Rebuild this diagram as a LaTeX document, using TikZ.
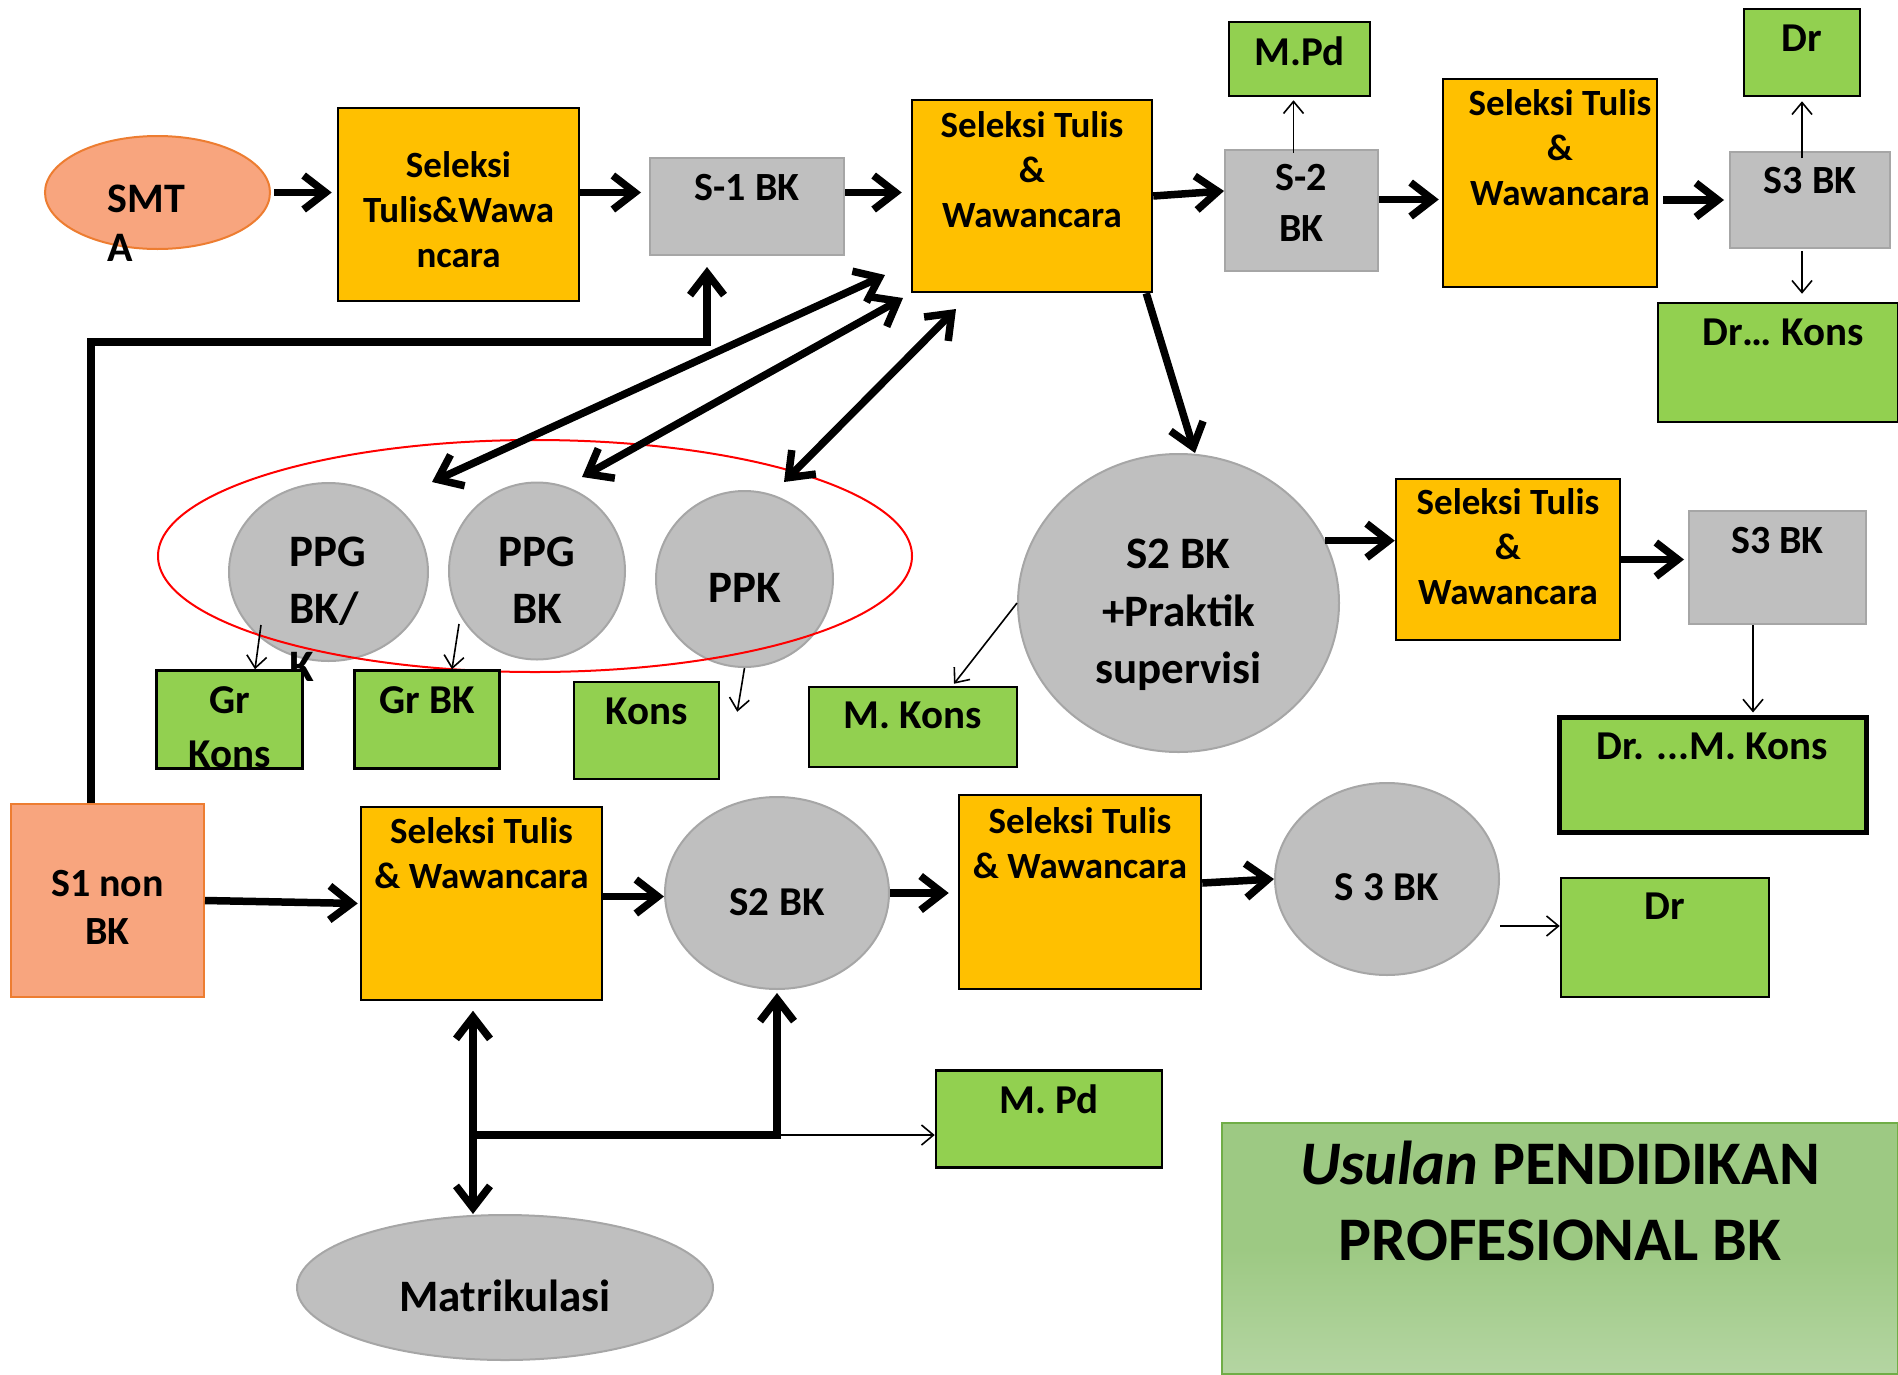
\documentclass[tikz,border=0pt]{standalone}
\usepackage{fontspec}
\setmainfont{Carlito}
\usetikzlibrary{arrows.meta, shapes.geometric, positioning}

\definecolor{orgF}{HTML}{FFC000}
\definecolor{gryF}{HTML}{BFBFBF}
\definecolor{gryD}{HTML}{A6A6A6}
\definecolor{grnF}{HTML}{92D050}
\definecolor{salF}{HTML}{F8A57E}
\definecolor{salD}{HTML}{ED7D31}
\definecolor{ttlA}{HTML}{9DC983}
\definecolor{ttlB}{HTML}{B4D5A2}
\definecolor{ttlD}{HTML}{70AD47}

\tikzset{
  fS/.style={font=\bfseries\fontsize{37}{45}\selectfont, align=center, inner sep=0pt},
  fL/.style={font=\bfseries\fontsize{40}{48}\selectfont, align=center, inner sep=0pt},
  fLL/.style={font=\bfseries\fontsize{40}{51}\selectfont, align=center, inner sep=0pt},
  fG/.style={font=\bfseries\fontsize{41}{50}\selectfont, align=center, inner sep=0pt},
  fGG/.style={font=\bfseries\fontsize{41}{54}\selectfont, align=center, inner sep=0pt},
  fM/.style={font=\bfseries\fontsize{42}{49}\selectfont, align=left, inner sep=0pt},
  fC/.style={font=\bfseries\fontsize{45}{57.5}\selectfont, align=center, inner sep=0pt},
  fT/.style={font=\bfseries\fontsize{62}{76}\selectfont, align=center, inner sep=0pt},
}

\begin{document}
\begin{tikzpicture}[x=1pt, y=-1pt,
    >={Straight Barb[length=22pt,width=34pt]},
    sz/.style 2 args={minimum width=#1pt, minimum height=#2pt, inner sep=0pt},
    obox/.style={rectangle, fill=orgF, draw=black, line width=2.5pt},
    gbox/.style={rectangle, fill=gryF, draw=gryD, line width=2pt},
    gell/.style={ellipse, fill=gryF, draw=gryD, line width=2pt},
    nbox/.style={rectangle, fill=grnF, draw=black, line width=2.5pt},
    sbox/.style={fill=salF, draw=salD, line width=2pt},
    thk/.style={line width=7.5pt},
    thn/.style={line width=1.6pt, -{Straight Barb[length=12pt,width=20pt]}},
  ]
  \useasboundingbox (0,0) rectangle (1898,1374);

  % title
  \node[rectangle, draw=ttlD, line width=2pt, sz={676}{251},
    top color=ttlA, bottom color=ttlB, middle color=ttlA,
    label={[fT, below=19pt]north:{\textit{Usulan} PENDIDIKAN\\PROFESIONAL BK}}] (ttl) at (1560,1248.5) {};

  % upper row
  \node[sbox, ellipse, sz={225}{113}, label={[fM, shift={(-11,31)}]center:{SMT\\A}}] (smta) at (157.5,192.5) {};
  \node[obox, sz={241}{193}, label={[fS, shift={(0,5)}]center:{Seleksi\\Tulis\&Wawa\\ncara}}] (sel1) at (458.5,204.5) {};
  \node[gbox, sz={194}{97}, label={[fL, below=17pt]north:{S-1 BK}}] (s1bk) at (747,206.5) {};
  \node[obox, sz={240}{192}, label={[fS, below=13pt]north:{Seleksi Tulis\\\&\\Wawancara}}] (sel2) at (1032,196) {};
  \node[nbox, sz={141}{74}, label={[fG, below=16pt]north:{M.Pd}}] (mpd1) at (1299.5,59) {};
  \node[gbox, sz={153}{121}, label={[fLL, below=15pt]north:{S-2\\BK}}] (s2bk) at (1301.5,210.5) {};
  \node[obox, sz={214}{208}, label={[fS, below=12pt, xshift=10pt]north:{Seleksi Tulis\\\&\\Wawancara}}] (sel3) at (1550,183) {};
  \node[gbox, sz={160}{96}, label={[fL, below=16pt]north:{S3 BK}}] (s3top) at (1810,200) {};
  \node[nbox, sz={116}{87}, label={[fG, below=17pt]north:{Dr}}] (drtop) at (1802,52.5) {};
  \node[nbox, sz={240}{119}, label={[fG, below=17pt, xshift=5pt]north:{Dr… Kons}}] (drkons) at (1778,362.5) {};

  % PPG group
  \node[gell, sz={199}{178}, label={[fC, align=left, shift={(-1,37)}]center:{PPG\\BK/\\K}}] (ppgk) at (328.5,572) {};
  \node[gell, sz={176}{177}, label={[fC, shift={(0,9)}]center:{PPG\\BK}}] (ppgbk) at (537,571) {};
  \node[gell, sz={177}{176}, label={[fC, shift={(0,9)}]center:{PPK}}] (ppk) at (744.5,579) {};
  \node[ellipse, draw=red, line width=2pt, sz={754}{232}] (grp) at (535,556) {};

  \node[nbox, sz={146}{98}, label={[fGG, below=17pt]north:{Gr\\Kons}}] (grkons) at (229.5,719.5) {};
  \node[nbox, sz={145}{98}, label={[fG, below=17pt]north:{Gr BK}}] (grbk) at (427,719.5) {};
  \node[nbox, sz={145}{97}, label={[fG, below=17pt]north:{Kons}}] (kons) at (646.5,730.5) {};
  \node[nbox, sz={208}{80}, label={[fG, below=16pt]north:{M. Kons}}] (mkons) at (913,727) {};

  % middle right
  \node[gell, sz={321}{298}, label={[fC, shift={(0,12)}]center:{S2 BK\\+Praktik\\supervisi}}] (s2prak) at (1178.5,603) {};
  \node[obox, sz={224}{161}, label={[fS, below=11pt]north:{Seleksi Tulis\\\&\\Wawancara}}] (sel4) at (1508,559.5) {};
  \node[gbox, sz={177}{113}, label={[fL, below=17pt]north:{S3 BK}}] (s3mid) at (1777.5,567.5) {};
  \node[nbox, line width=5pt, sz={307}{115}, label={[fG, below=18pt]north:{Dr. ...M. Kons}}] (drmkons) at (1712.5,774.5) {};

  % lower row
  \node[sbox, rectangle, sz={193}{193}, label={[fL, shift={(0,6.5)}]center:{S1 non\\BK}}] (s1non) at (107.5,900.5) {};
  \node[obox, sz={241}{193}, label={[fS, below=12pt]north:{Seleksi Tulis\\\& Wawancara}}] (sel5) at (481.5,903.5) {};
  \node[gell, sz={224}{192}, label={[fG, shift={(0,9.5)}]center:{S2 BK}}] (s2c) at (777,893) {};
  \node[obox, sz={242}{194}, label={[fS, below=14pt]north:{Seleksi Tulis\\\& Wawancara}}] (sel6) at (1080,892) {};
  \node[gell, sz={224}{192}, label={[fG, shift={(0,8.5)}]center:{S 3 BK}}] (s3c) at (1387,879) {};
  \node[nbox, sz={208}{119}, label={[fG, below=16pt]north:{Dr}}] (drbot) at (1665,937.5) {};
  \node[nbox, sz={226}{97}, label={[fG, below=15pt]north:{M. Pd}}] (mpd2) at (1049,1119) {};
  \node[gell, sz={416}{145}, label={[fC, shift={(0,8)}]center:{Matrikulasi}}] (matr) at (505,1287.5) {};

  % thick connectors
  \draw[thk, ->, shorten <=3pt, shorten >=5pt] (smta.east) -- (smta.east -| sel1.west);
  \draw[thk, ->, shorten >=8pt] (sel1.east |- smta.east) -- (s1bk.west |- smta.east);
  \draw[thk, ->, shorten >=9pt] (s1bk.east |- smta.east) -- (sel2.west |- smta.east);
  \draw[thk, ->] (sel2.east) -- ([yshift=19.5pt]s2bk.west);
  \draw[thk, ->, shorten >=3pt] ([yshift=11pt]s2bk.east) -- ([yshift=11pt]s2bk.east -| sel3.west);
  \draw[thk, ->, shorten <=5pt, shorten >=5pt] (sel3.east |- s3top.west) -- (s3top.west);
  \draw[thk, ->] ([xshift=-7pt]sel2.south east) -- ([xshift=16.5pt]s2prak.north);
  \draw[thk, ->] (s2prak.23) -- (s2prak.23 -| sel4.west);
  \draw[thk, ->, shorten >=4pt] (sel4.east) -- (sel4.east -| s3mid.west);
  \draw[thk, ->] ([xshift=-16.5pt]s1non.north) |- ([shift={(-40,86)}]s1bk.south) -- ([shift={(-40,11)}]s1bk.south);

  \coordinate (d1a) at (432,482);
  \coordinate (d1b) at (885,275);
  \coordinate (d2a) at (582,477);
  \coordinate (d2b) at (903,298);
  \coordinate (d3a) at (784,482);
  \coordinate (d3b) at (956,309);
  \draw[thk, <->] (d1a) -- (d1b);
  \draw[thk, <->] (d2a) -- (d2b);
  \draw[thk, <->] (d3a) -- (d3b);

  \draw[thk, ->, shorten >=2pt] (s1non.east) -- (sel5.west);
  \draw[thk, ->] ([yshift=7pt]sel5.east) -- ([yshift=7pt]sel5.east -| s2c.west);
  \draw[thk, ->, shorten >=9pt] (s2c.east) -- (s2c.east -| sel6.west);
  \draw[thk, ->] ([yshift=9pt]sel6.east) -- (s3c.west);
  \draw[thk, <->, shorten <=9.5pt] ([xshift=-8.5pt]sel5.south) -- ([xshift=-8.5pt]sel5.south |- matr.north);
  \coordinate (jl) at (473,1135);
  \coordinate (jr) at (777,1135);
  \draw[thk, ->, shorten >=3pt] (jl) -- (jr) -- (s2c.south);

  % thin connectors
  \draw[thn] (jr) -- (jr -| mpd2.west);
  \draw[thn] ([yshift=-47pt]s3c.east) -- ([yshift=-47pt]s3c.east -| drbot.west);
  \draw[thn, shorten <=-4pt, shorten >=3pt] ([xshift=-8pt]s2bk.north) -- ([xshift=-8pt]s2bk.north |- mpd1.south);
  \draw[thn, shorten <=-7pt, shorten >=4pt] (drtop.south |- s3top.north) -- (drtop.south);
  \draw[thn, shorten <=2pt, shorten >=8pt] (drtop.south |- s3top.south) -- (drtop.south |- drkons.north);
  \draw[thn, shorten >=2pt] ([xshift=-24.5pt]s3mid.south) -- ([xshift=-24.5pt]s3mid.south |- drmkons.north);
  \draw[thn] ([shift={(-67.5,53)}]ppgk.center) -- ([xshift=25.5pt]grkons.north);
  \draw[thn] ([shift={(-78,53)}]ppgbk.center) -- ([xshift=25pt]grbk.north);
  \draw[thn] (ppk.south) -- ([shift={(17,31)}]kons.north east);
  \draw[thn] (s2prak.west) -- ([shift={(41,-2)}]mkons.north);
\end{tikzpicture}
\end{document}
